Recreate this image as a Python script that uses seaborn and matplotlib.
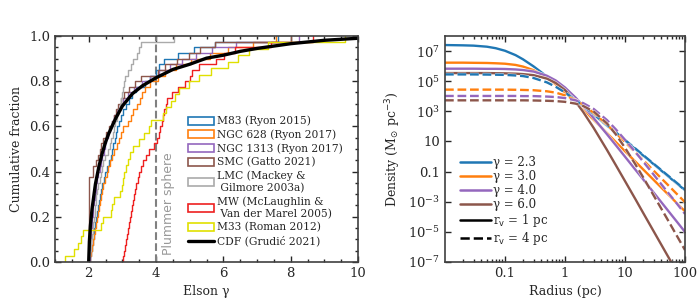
import matplotlib
matplotlib.use('Agg')
import numpy as np
import matplotlib.pyplot as plt
import matplotlib.patheffects as pe
from matplotlib.patches import Patch
from matplotlib.lines import Line2D
from matplotlib.ticker import AutoMinorLocator, FixedLocator, NullLocator
import seaborn as sns

# ==========================================
# 左图数据: Elson gamma 样本
# ==========================================
gamma_m83 = [2.04, 2.07, 2.10, 2.12, 2.15, 2.17, 2.20, 2.23, 2.26, 2.29,
             2.32, 2.34, 2.37, 2.41, 2.45, 2.49, 2.53, 2.59, 2.65, 2.70,
             2.73, 2.77, 2.81, 2.85, 2.89, 2.95, 3.03, 3.11, 3.20, 3.28,
             3.40, 3.66, 3.82, 4.01, 4.08, 4.25, 4.64, 5.12, 5.76, 7.63]
gamma_ngc628 = [2.04, 2.07, 2.10, 2.13, 2.16, 2.19, 2.22, 2.25, 2.28, 2.31,
                2.33, 2.36, 2.40, 2.43, 2.48, 2.53, 2.58, 2.64, 2.70, 2.76,
                2.83, 2.89, 2.96, 3.03, 3.16, 3.25, 3.33, 3.42, 3.51, 3.58,
                3.67, 3.83, 4.06, 4.27, 4.60, 5.03, 5.59, 6.15, 6.89, 7.57]
gamma_ngc1313 = [2.03, 2.04, 2.05, 2.06, 2.07, 2.08, 2.09, 2.11, 2.13, 2.14,
                 2.16, 2.18, 2.21, 2.23, 2.26, 2.29, 2.33, 2.36, 2.40, 2.44,
                 2.48, 2.52, 2.58, 2.64, 2.70, 2.76, 2.83, 2.92, 3.03, 3.17,
                 3.34, 3.59, 3.83, 4.10, 4.41, 4.78, 5.18, 5.66, 6.38, 8.25]
gamma_smc = [2.0, 2.0, 2.0, 2.0, 2.0, 2.0, 2.0, 2.0, 2.0, 2.0,
             2.0, 2.0, 2.0, 2.0, 2.0, 2.13, 2.14, 2.22, 2.29, 2.34,
             2.38, 2.43, 2.50, 2.61, 2.70, 2.75, 2.80, 2.86, 2.95, 3.06,
             3.19, 3.37, 3.56, 4.05, 4.26, 4.61, 4.98, 5.32, 5.74, 8.0]
gamma_lmc = [2.01, 2.03, 2.06, 2.08, 2.10, 2.12, 2.14, 2.16, 2.18, 2.19,
             2.21, 2.23, 2.26, 2.29, 2.33, 2.36, 2.39, 2.43, 2.49, 2.56,
             2.62, 2.67, 2.71, 2.75, 2.79, 2.83, 2.87, 2.92, 2.95, 2.98,
             3.01, 3.04, 3.08, 3.17, 3.25, 3.31, 3.43, 3.50, 3.55, 4.52]
gamma_mw = [3.02, 3.05, 3.09, 3.12, 3.15, 3.18, 3.21, 3.24, 3.26, 3.29,
            3.32, 3.35, 3.38, 3.41, 3.45, 3.50, 3.54, 3.61, 3.70, 3.80,
            3.93, 4.03, 4.08, 4.13, 4.17, 4.21, 4.25, 4.30, 4.34, 4.48,
            4.66, 4.85, 5.01, 5.06, 5.28, 5.78, 6.01, 6.34, 7.41, 8.66]
gamma_m33 = [1.30, 1.57, 1.68, 1.78, 1.83, 2.38, 2.42, 2.65, 2.70, 2.75,
             2.93, 2.98, 3.02, 3.06, 3.11, 3.16, 3.23, 3.32, 3.49, 3.65,
             3.78, 3.86, 4.21, 4.31, 4.44, 4.55, 4.68, 4.98, 5.27, 5.62,
             6.14, 6.42, 6.76, 7.33, 9.6]

# Grudic 2021 的累积分布曲线
cdf_gamma = [2.0, 2.02, 2.05, 2.1, 2.15, 2.2, 2.3, 2.4, 2.5, 2.6, 2.8, 3.0,
             3.3, 3.6, 4.0, 4.5, 5.0, 5.5, 6.0, 6.5, 7.0, 8.0, 9.0, 10.0]
cdf_frac = [0.0, 0.09, 0.16, 0.235, 0.29, 0.345, 0.42, 0.48, 0.53, 0.57, 0.635, 0.69,
            0.745, 0.78, 0.815, 0.852, 0.875, 0.902, 0.915, 0.932, 0.945, 0.966, 0.981, 0.99]

samples = [gamma_m83, gamma_ngc628, gamma_ngc1313, gamma_smc, gamma_lmc, gamma_mw, gamma_m33]
sample_labels = ['M83 (Ryon 2015)', 'NGC 628 (Ryon 2017)', 'NGC 1313 (Ryon 2017)',
                 'SMC (Gatto 2021)', 'LMC (Mackey &\n Gilmore 2003a)',
                 'MW (McLaughlin &\n Van der Marel 2005)', 'M33 (Roman 2012)']
sample_colors = ['#1f77b4', '#ff7f0e', '#9467bd', '#8c564b', '#aaaaaa', '#ee2020', '#e0e000']

# ==========================================
# 右图数据: 密度剖面 log10(rho), 读自原图
# ==========================================
radius = [0.01, 0.02, 0.03, 0.05, 0.07, 0.1, 0.15, 0.2, 0.3, 0.5, 0.7, 1,
          1.5, 2, 3, 5, 7, 10, 15, 20, 30, 50, 70, 100]
logrho_g23_r1 = [7.40, 7.38, 7.36, 7.29, 7.19, 7.02, 6.73, 6.45, 5.98, 5.31, 4.85, 4.35,
                 3.78, 3.37, 2.79, 2.05, 1.57, 1.06, 0.48, 0.07, -0.51, -1.25, -1.73, -2.24]
logrho_g30_r1 = [6.23, 6.23, 6.22, 6.21, 6.19, 6.16, 6.08, 5.97, 5.73, 5.23, 4.79, 4.26,
                 3.61, 3.13, 2.44, 1.56, 0.97, 0.35, -0.35, -0.85, -1.55, -2.44, -3.02, -3.64]
logrho_g40_r1 = [5.83, 5.83, 5.83, 5.82, 5.82, 5.81, 5.78, 5.74, 5.64, 5.36, 5.05, 4.58,
                 3.91, 3.37, 2.55, 1.48, 0.76, -0.01, -0.89, -1.51, -2.39, -3.50, -4.23, -5.01]
logrho_g60_r1 = [5.54, 5.54, 5.54, 5.54, 5.53, 5.52, 5.50, 5.47, 5.40, 5.17, 4.88, 4.41,
                 3.64, 2.97, 1.90, 0.44, -0.56, -1.63, -2.85, -3.73, -4.96, -6.51, -7.53, -8.62]
logrho_g23_r4 = [5.45, 5.45, 5.45, 5.44, 5.43, 5.42, 5.38, 5.34, 5.21, 4.92, 4.63, 4.25,
                 3.75, 3.36, 2.81, 2.09, 1.61, 1.10, 0.52, 0.10, -0.48, -1.21, -1.69, -2.20]
logrho_g30_r4 = [4.44, 4.44, 4.44, 4.44, 4.44, 4.44, 4.43, 4.42, 4.40, 4.33, 4.24, 4.06,
                 3.75, 3.44, 2.90, 2.12, 1.56, 0.96, 0.26, -0.23, -0.94, -1.82, -2.41, -3.03]
logrho_g40_r4 = [4.02, 4.02, 4.02, 4.02, 4.02, 4.02, 4.02, 4.01, 4.01, 3.98, 3.95, 3.88,
                 3.73, 3.55, 3.16, 2.42, 1.81, 1.11, 0.28, -0.33, -1.20, -2.31, -3.03, -3.81]
logrho_g60_r4 = [3.73, 3.73, 3.73, 3.73, 3.73, 3.73, 3.73, 3.73, 3.72, 3.70, 3.68, 3.63,
                 3.51, 3.36, 2.99, 2.20, 1.48, 0.58, -0.54, -1.37, -2.58, -4.11, -5.13, -6.21]

profile_labels = ['γ = 2.3', 'γ = 3.0', 'γ = 4.0', 'γ = 6.0']
profile_colors = ['#1f77b4', '#ff7f0e', '#9467bd', '#8c564b']
profiles_r1 = [logrho_g23_r1, logrho_g30_r1, logrho_g40_r1, logrho_g60_r1]
profiles_r4 = [logrho_g23_r4, logrho_g30_r4, logrho_g40_r4, logrho_g60_r4]

ytick_vals = [1e-7, 1e-5, 1e-3, 1e-1, 1e1, 1e3, 1e5, 1e7]
ytick_labels = [r'$\mathdefault{10^{-7}}$', r'$\mathdefault{10^{-5}}$', r'$\mathdefault{10^{-3}}$',
                '0.1', '10', r'$\mathdefault{10^{3}}$', r'$\mathdefault{10^{5}}$', r'$\mathdefault{10^{7}}$']
xtick_vals = [0.1, 1, 10, 100]
xtick_labels = ['0.1', '1', '10', '100']

# ==========================================
# 绘图
# ==========================================
sns.set_style('ticks')
plt.rcParams['font.family'] = ['DejaVu Serif']
plt.rcParams['mathtext.fontset'] = 'dejavusans'
plt.rcParams['font.size'] = 9

fig = plt.figure(figsize=(7, 3), dpi=100)
ax1 = fig.add_axes([0.0786, 0.1267, 0.4329, 0.7533])
ax2 = fig.add_axes([0.6357, 0.1267, 0.3429, 0.7533])

# --- 左图 ---
for vals, col in zip(samples, sample_colors):
    sns.ecdfplot(x=vals, ax=ax1, color=col, lw=1.0)
sns.lineplot(x=cdf_gamma, y=cdf_frac, ax=ax1, color='black', lw=2.4)
ax1.axvline(4, color='0.5', ls='--', lw=1.5, zorder=1)
ax1.text(4.18, 0.03, 'Plummer sphere', rotation=90, color='0.6', fontsize=9,
         family='DejaVu Sans', ha='left', va='bottom')

ax1.set_xlim(1, 10)
ax1.set_ylim(0, 1)
ax1.set_xlabel('Elson γ')
ax1.set_ylabel('Cumulative fraction')
ax1.xaxis.set_minor_locator(AutoMinorLocator(4))
ax1.yaxis.set_minor_locator(AutoMinorLocator(4))

handles = [Patch(facecolor='white', edgecolor=c, lw=1.2) for c in sample_colors]
handles.append(Line2D([], [], color='black', lw=2.4))
ax1.legend(handles, sample_labels + ['CDF (Grudić 2021)'], loc='lower right',
           bbox_to_anchor=(0.977, 0.031), frameon=False,
           fontsize=7.7, handlelength=2.4, handleheight=0.75, handletextpad=0.25,
           labelspacing=0.3, borderaxespad=0.6, borderpad=0.2)

# --- 右图 ---
ax2.set_xscale('log')
ax2.set_yscale('log')
halo = [pe.Stroke(linewidth=2.6, foreground='white', alpha=0.7), pe.Normal()]
for logrho, col in zip(profiles_r1, profile_colors):
    sns.lineplot(x=radius, y=10 ** np.array(logrho), ax=ax2, color=col, lw=1.7,
                 path_effects=halo)
for logrho, col in zip(profiles_r4, profile_colors):
    sns.lineplot(x=radius, y=10 ** np.array(logrho), ax=ax2, color=col, lw=1.7, ls='--',
                 path_effects=halo)

ax2.set_xlim(0.01, 100)
ax2.set_ylim(1e-7, 1e8)
ax2.yaxis.set_major_locator(FixedLocator(ytick_vals))
ax2.set_yticklabels(ytick_labels)
ax2.yaxis.set_minor_locator(NullLocator())
ax2.xaxis.set_major_locator(FixedLocator(xtick_vals))
ax2.set_xticklabels(xtick_labels)
ax2.set_xlabel('Radius (pc)')
ax2.set_ylabel(r'Density (M$_{\odot}$ pc$^{-3}$)')

handles2 = [Line2D([], [], color=c, lw=1.8) for c in profile_colors]
handles2 += [Line2D([], [], color='black', lw=1.8),
             Line2D([], [], color='black', lw=1.8, ls='--')]
ax2.legend(handles2, profile_labels + [r'r$_{\rm v}$ = 1 pc', r'r$_{\rm v}$ = 4 pc'],
           loc='lower left', frameon=False, fontsize=8.5, handlelength=2.6,
           handletextpad=0.2, labelspacing=0.08, borderaxespad=1.0, borderpad=0.3)

for ax in (ax1, ax2):
    ax.tick_params(which='both', direction='in', top=True, right=True, width=1.0,
                   labelsize=9.5)
    ax.tick_params(which='major', length=4)
    ax.tick_params(which='minor', length=2)
    for s in ax.spines.values():
        s.set_linewidth(1.2)
        s.set_color('0.25')

fig.savefig('out.png', dpi=100)
plt.close(fig)
